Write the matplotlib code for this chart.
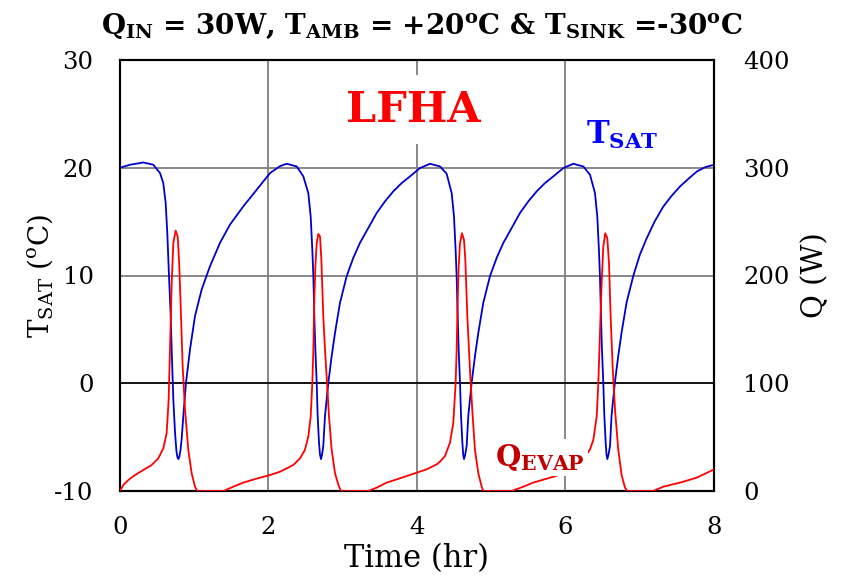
import numpy as np
import matplotlib
matplotlib.use("Agg")
import matplotlib.pyplot as plt

#Fonts
plt.rcParams['font.family'] = 'DejaVu Serif'
plt.rcParams['mathtext.fontset'] = 'custom'
plt.rcParams['mathtext.rm'] = 'DejaVu Serif'
plt.rcParams['mathtext.bf'] = 'DejaVu Serif:bold'
plt.rcParams['axes.unicode_minus'] = False

#Saturation temperature (left axis, degC)
t_sat = [0.0, 0.135, 0.314, 0.449, 0.539, 0.583, 0.615, 0.637, 0.66, 0.683, 0.696, 0.718,
         0.741, 0.76, 0.773, 0.786, 0.8, 0.815, 0.83, 0.853, 0.889, 0.943, 1.01, 1.1, 1.212,
         1.347, 1.481, 1.661, 1.841, 1.95, 2.02, 2.155, 2.245,
         2.38, 2.469, 2.536, 2.568, 2.59, 2.604, 2.617, 2.631, 2.649, 2.662, 2.68, 2.693,
         2.707, 2.722, 2.738, 2.761, 2.806, 2.851, 2.896, 2.963, 3.053, 3.142, 3.232, 3.344,
         3.457, 3.569, 3.681, 3.794, 3.906, 4.04, 4.175,
         4.31, 4.399, 4.467, 4.498, 4.52, 4.534, 4.548, 4.561, 4.579, 4.593, 4.611, 4.622,
         4.633, 4.65, 4.669, 4.691, 4.736, 4.781, 4.826, 4.893, 4.983, 5.073, 5.163, 5.275,
         5.387, 5.499, 5.612, 5.724, 5.836, 5.971, 6.105,
         6.24, 6.33, 6.397, 6.428, 6.45, 6.464, 6.478, 6.491, 6.509, 6.523, 6.541, 6.552,
         6.563, 6.58, 6.6, 6.62, 6.665, 6.71, 6.755, 6.822, 6.912, 7.0, 7.09, 7.2, 7.317,
         7.43, 7.543, 7.66, 7.77, 7.88, 8.0]
T_sat = [20.0, 20.28, 20.49, 20.28, 19.5, 18.58, 16.73, 13.95, 9.94, 6.23, 3.15, -1.48,
         -4.57, -6.3, -6.85, -7.04, -6.8, -6.2, -5.2, -3.02, 0.06, 3.15, 6.23, 8.7, 10.86,
         13.03, 14.72, 16.42, 17.96, 18.9, 19.5, 20.15, 20.37,
         20.12, 19.2, 17.65, 15.5, 12.4, 9.94, 6.23, 3.15, 0.06, -3.02, -5.49, -6.6,
         -7.04, -6.6, -5.8, -3.02, 0.06, 2.53, 4.69, 7.47, 9.94, 11.64, 13.03, 14.41,
         15.8, 16.88, 17.81, 18.58, 19.2, 19.97, 20.37,
         20.12, 19.45, 17.65, 15.5, 12.4, 9.94, 6.23, 3.15, 0.06, -3.02, -5.49, -6.6,
         -7.04, -6.6, -5.8, -3.02, 0.06, 2.53, 4.69, 7.47, 9.94, 11.64, 13.03, 14.41,
         15.8, 16.88, 17.81, 18.58, 19.2, 19.97, 20.37,
         20.12, 19.35, 17.65, 15.5, 12.4, 9.94, 6.23, 3.15, 0.06, -3.02, -5.49, -6.6,
         -7.04, -6.6, -5.8, -3.02, 0.06, 2.53, 4.69, 7.47, 9.94, 11.9, 13.4, 15.0, 16.4,
         17.4, 18.27, 19.0, 19.66, 20.05, 20.28]

#Evaporator heat load (right axis, W)
t_evap = [0.0, 0.045, 0.112, 0.202, 0.314, 0.426, 0.516, 0.583, 0.628, 0.655, 0.673, 0.696,
          0.718, 0.75, 0.777, 0.799, 0.822, 0.844, 0.876, 0.92, 0.965, 1.01, 1.041, 1.391,
          1.526, 1.661, 1.841, 2.02, 2.155, 2.334, 2.424, 2.49, 2.536, 2.568, 2.59, 2.604,
          2.617, 2.631, 2.649, 2.671, 2.694, 2.712, 2.738, 2.761, 2.783, 2.815, 2.851, 2.896,
          2.941, 2.977, 3.345, 3.457, 3.592, 3.727, 3.861, 3.996, 4.13, 4.265, 4.31, 4.377,
          4.444, 4.489, 4.52, 4.534, 4.548, 4.561, 4.579, 4.606, 4.633, 4.651, 4.678, 4.7,
          4.723, 4.75, 4.781, 4.826, 4.871, 4.893, 5.275, 5.432, 5.566, 5.7, 5.85, 6.0,
          6.12, 6.24, 6.33, 6.375, 6.42, 6.442, 6.464, 6.487, 6.509, 6.536, 6.563, 6.586,
          6.608, 6.635, 6.667, 6.711, 6.756, 6.801, 6.832, 7.18, 7.318, 7.543, 7.768, 8.0]
Q_evap = [0, 5.6, 10.2, 14.8, 19.5, 24.1, 30.3, 39.6, 53.5, 84.4, 131, 192.8,
          230, 241.7, 236.1, 208.3, 161.9, 115.5, 75.3, 38.1, 16.4, 4, 0, 0,
          4, 7.8, 11.5, 14.8, 17.9, 24.1, 30.3, 38.1, 50.5, 69, 99.9, 131,
          177.4, 208.3, 230, 238.6, 236.1, 214.5, 161.9, 131, 106.2, 69, 38.1, 16.4,
          5.6, 0, 0, 3.1, 7.8, 10.8, 13.9, 17, 20.1, 24.7, 27.2, 32.5,
          44.8, 63.4, 99.9, 131, 177.4, 208.3, 230, 239.2, 233, 214.5, 161.9, 131,
          99.9, 69, 38.1, 16.4, 4, 0, 0, 4, 7.8, 10.5, 13.5, 17,
          20.5, 29.3, 38.6, 47.5, 69, 99.9, 146.3, 192.8, 226.9, 239.2, 234.6, 211.4,
          161.9, 115.5, 75.3, 38.1, 14.8, 3.1, 0, 0, 4, 7.8, 12.4, 20]

fig = plt.figure(figsize=(8.45, 5.78), dpi=100)
ax = fig.add_axes([120/845, 1-491/578, 594/845, 431/578])
ax2 = ax.twinx()

#Grid and axes
ax.set_xlim(0, 8)
ax.set_ylim(-10, 30)
ax2.set_ylim(0, 400)
ax.set_xticks([0, 2, 4, 6, 8])
ax.set_yticks([-10, 0, 10, 20, 30])
ax2.set_yticks([0, 100, 200, 300, 400])
ax.grid(True, color='#7f7f7f', lw=1.3)
ax.axhline(0, color='black', lw=1.2, zorder=2)
for a in (ax, ax2):
    for s in a.spines.values():
        s.set_color('black')
        s.set_linewidth(1.5)
ax.tick_params(axis='both', length=0, labelsize=17.5)
ax.tick_params(axis='y', pad=19)
ax.tick_params(axis='x', pad=18)
ax2.tick_params(axis='y', length=0, labelsize=17.5, pad=21)

ax.plot(t_sat, T_sat, color='#0000cc', lw=1.3, zorder=3, solid_joinstyle='round')
ax2.plot(t_evap, Q_evap, color='#ff0000', lw=1.3, zorder=3, solid_joinstyle='round')

ax.set_xlabel('Time (hr)', fontsize=22, labelpad=3)
ax.set_ylabel(r'T$_{\mathregular{SAT}}$ ($^{\mathregular{o}}$C)', fontsize=20, labelpad=-1)
ax2.set_ylabel('Q (W)', fontsize=21, labelpad=8)

#Labels inside the chart
ax.text(3.95, 25.4, 'LFHA', color='#ff0000', fontsize=31, fontweight='bold',
        ha='center', va='center', zorder=10,
        bbox=dict(facecolor='white', edgecolor='none', pad=10))
ax2.text(6.77, 330, r'$\mathbf{T_{SAT}}$', color='#0000ff', fontsize=22,
         ha='center', va='center', zorder=10)
ax2.text(5.66, 31, r'$\mathbf{Q_{EVAP}}$', color='#c00000', fontsize=21,
         ha='center', va='center', zorder=10,
         bbox=dict(facecolor='white', edgecolor='none', pad=2))

fig.text(0.5, 0.955,
         r'$\mathbf{Q_{IN}}$ = 30W, $\mathbf{T_{AMB}}$ = +20$\mathbf{^{o}}$C & '
         r'$\mathbf{T_{SINK}}$ =-30$\mathbf{^{o}}$C',
         fontsize=20, fontweight='bold', ha='center', va='center')

fig.savefig('out.png', dpi=100)
